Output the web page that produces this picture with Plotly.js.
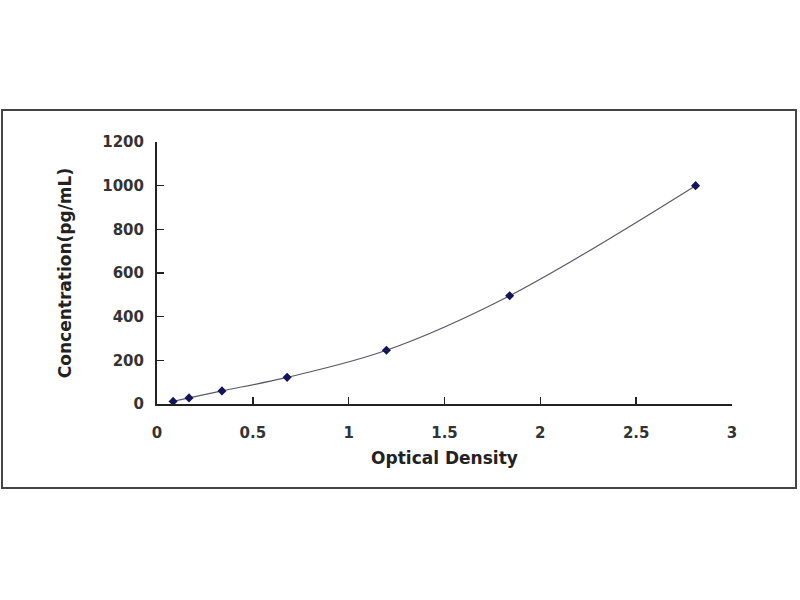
<!DOCTYPE html>
<html>
<head>
<meta charset="utf-8">
<script src="https://cdn.plot.ly/plotly-3.0.1.min.js"></script>
<style>html,body{margin:0;padding:0;background:#fff;}#chart{width:800px;height:600px;}</style>
</head>
<body>
<div id="chart"></div>
<script>
const opticalDensity = [0.084, 0.167, 0.339, 0.679, 1.197, 1.84, 2.81];
const concentration = [12, 28, 60, 122, 246, 496, 1000];
const xTicks = [0, 0.5, 1, 1.5, 2, 2.5, 3];
const xTickLabels = ['0', '0.5', '1', '1.5', '2', '2.5', '3'];
const yTicks = [0, 200, 400, 600, 800, 1000, 1200];
const yTickLabels = ['0', '200', '400', '600', '800', '1000', '1200'];

const L = 157, R = 732, T = 142, B = 404;
const W = R - L, H = B - T;
const px = v => (v - L) / W;
const py = v => (B - v) / H;

const traces = [
  {
    x: opticalDensity, y: concentration, type: 'scatter', mode: 'lines',
    line: {color: '#5a5a66', width: 1.2, shape: 'spline', smoothing: 1},
    hoverinfo: 'skip', showlegend: false
  },
  {
    x: opticalDensity, y: concentration, type: 'scatter', mode: 'markers',
    marker: {color: '#14145a', size: 7, symbol: 'diamond'},
    showlegend: false
  }
];

const FAM = 'DejaVu Sans, Verdana, sans-serif';
const tickFont = {family: FAM, size: 15, color: '#333333', weight: 'bold'};
const layout = {
  width: 800, height: 600,
  margin: {l: L, r: 800 - R, t: T, b: 600 - B},
  paper_bgcolor: '#ffffff', plot_bgcolor: '#ffffff',
  showlegend: false,
  xaxis: {
    range: [0, 3], tickmode: 'array', tickvals: xTicks, ticktext: xTickLabels,
    showgrid: false, zeroline: false, showline: true, linecolor: '#222222', linewidth: 2,
    ticks: 'inside', ticklen: 7, tickwidth: 1.5, tickcolor: '#222222',
    tickfont: tickFont, ticklabelstandoff: 14,
    title: {text: 'Optical Density', font: {family: FAM, size: 17, color: '#222222', weight: 'bold'}, standoff: 11}
  },
  yaxis: {
    range: [0, 1200], tickmode: 'array', tickvals: yTicks, ticktext: yTickLabels,
    showgrid: false, zeroline: false, showline: true, linecolor: '#222222', linewidth: 2,
    ticks: 'inside', ticklen: 7, tickwidth: 1.5, tickcolor: '#222222',
    tickfont: tickFont, ticklabelstandoff: 8,
    title: {text: 'Concentration(pg/mL)', font: {family: FAM, size: 17, color: '#222222', weight: 'bold'}, standoff: 26}
  },
  shapes: [
    {type: 'rect', xref: 'paper', yref: 'paper', x0: px(2), x1: px(796), y0: py(488), y1: py(110),
     line: {color: '#444444', width: 2}, fillcolor: 'rgba(0,0,0,0)', layer: 'below'}
  ]
};

Plotly.newPlot('chart', traces, layout, {displayModeBar: false, staticPlot: true});
</script>
</body>
</html>
